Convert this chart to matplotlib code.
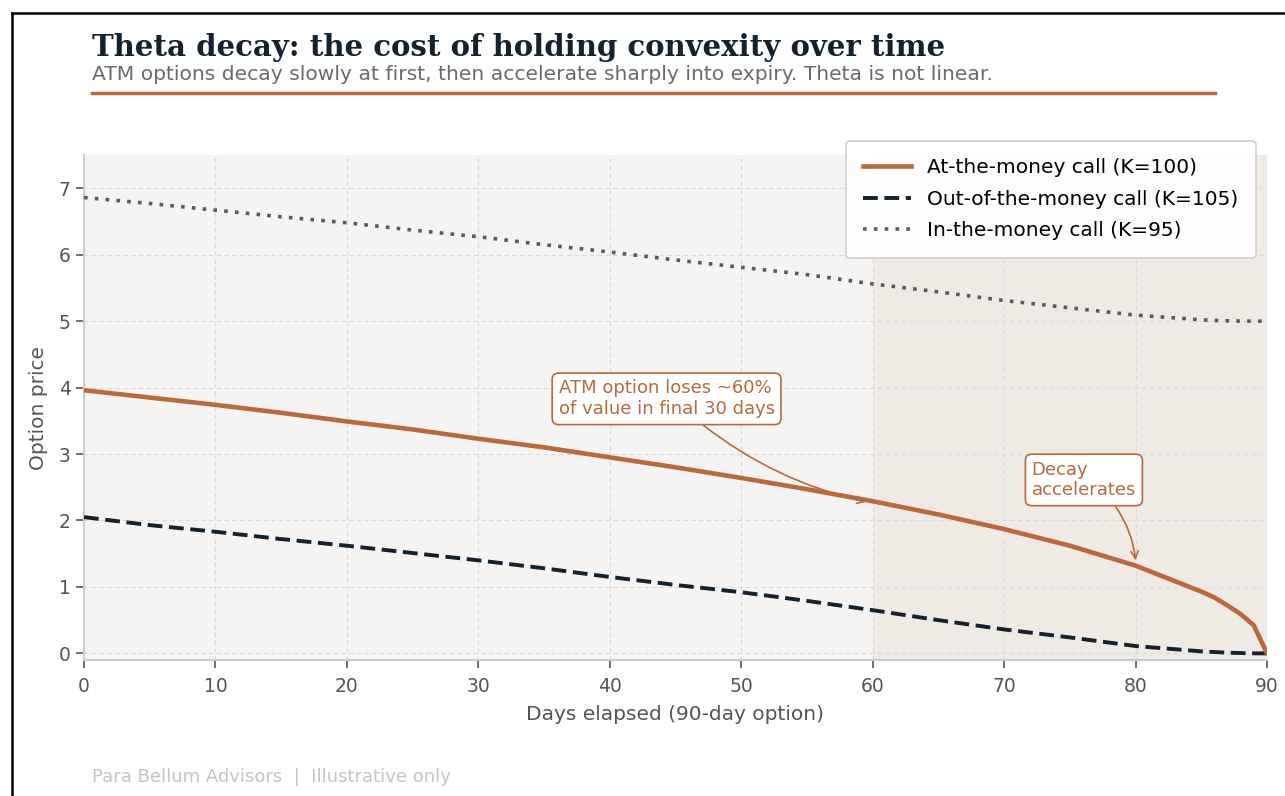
import matplotlib
matplotlib.use("Agg")
import matplotlib.pyplot as plt
from matplotlib.lines import Line2D

# -------------------------------
# Data
# -------------------------------
days = [0, 5, 10, 15, 20, 25, 30, 35, 40, 45, 50, 55, 60, 65, 70, 75, 80, 85, 86, 87, 88, 89, 90]
atm = [3.96, 3.85, 3.74, 3.62, 3.49, 3.37, 3.23, 3.10, 2.95, 2.80, 2.64, 2.47, 2.29,
       2.09, 1.87, 1.62, 1.32, 0.93, 0.84, 0.72, 0.59, 0.42, 0.0]
otm = [2.05, 1.93, 1.83, 1.72, 1.62, 1.51, 1.40, 1.28, 1.15, 1.03, 0.92, 0.79, 0.65,
       0.50, 0.36, 0.24, 0.11, 0.03, 0.02, 0.01, 0.005, 0.0, 0.0]
itm = [6.86, 6.77, 6.67, 6.57, 6.48, 6.37, 6.27, 6.15, 6.04, 5.92, 5.81, 5.70, 5.56,
       5.44, 5.31, 5.20, 5.09, 5.02, 5.01, 5.005, 5.0, 5.0, 5.0]

labels = ["At-the-money call (K=100)", "Out-of-the-money call (K=105)", "In-the-money call (K=95)"]

BROWN = "#b8693d"
NAVY = "#14212e"
GREY = "#5a5a5a"

# -------------------------------
# Figure
# -------------------------------
fig = plt.figure(figsize=(12.85, 7.96), dpi=100)
fig.patch.set_facecolor("white")
ax = fig.add_axes([84 / 1285, 136 / 796, (1267 - 84) / 1285, (660 - 155) / 796])
ax.set_facecolor("#f5f4f3")

ax.axvspan(60, 90, color="#f0eae5", zorder=0)

ax.plot(days, atm, color=BROWN, lw=3.3, label=labels[0], zorder=4)
ax.plot(days, otm, color=NAVY, lw=2.8, ls=(0, (3.8, 1.7)), label=labels[1], zorder=3)
ax.plot(days, itm, color=GREY, lw=2.6, ls=(0, (1, 2.0)), label=labels[2], zorder=3)

ax.set_xlim(0, 90)
ax.set_ylim(-0.1, 7.5)
ax.set_xticks(range(0, 91, 10))
ax.set_yticks(range(0, 8))
ax.grid(True, color="#d9d9d9", ls=(0, (4, 3)), lw=0.8)
ax.set_axisbelow(True)
for s in ["top", "right"]:
    ax.spines[s].set_visible(False)
for s in ["left", "bottom"]:
    ax.spines[s].set_color("#cccccc")
    ax.spines[s].set_linewidth(1.5)
ax.tick_params(colors="#555555", labelsize=13.5, length=6, width=1.2)
ax.tick_params(axis="x", pad=6)
ax.set_xlabel("Days elapsed (90-day option)", fontsize=14.5, color="#555555", labelpad=7)
ax.set_ylabel("Option price", fontsize=14.5, color="#555555", labelpad=8)

leg = ax.legend(loc="upper right", bbox_to_anchor=(0.999, 1.047), fontsize=14.5,
                frameon=True, facecolor="white", edgecolor="#cccccc", framealpha=0.95,
                handlelength=2.4, borderpad=0.85, labelspacing=0.62)
leg.get_frame().set_linewidth(1.2)

# Annotations
box = dict(boxstyle="round,pad=0.35", fc="white", ec=BROWN, lw=1.2)
ax.annotate("ATM option loses ~60%\nof value in final 30 days", xy=(59.5, 2.28),
            xytext=(36.1, 3.83), fontsize=13, color=BROWN, ha="left", va="center",
            bbox=box,
            arrowprops=dict(arrowstyle="->", color=BROWN, lw=1.2,
                            connectionstyle="arc3,rad=0.12", shrinkA=0, shrinkB=0,
                            relpos=(0.63, 0.0)))
ax.annotate("Decay\naccelerates", xy=(80, 1.40), xytext=(72.1, 2.61),
            fontsize=13, color=BROWN, ha="left", va="center", bbox=box,
            arrowprops=dict(arrowstyle="->", color=BROWN, lw=1.2,
                            connectionstyle="arc3,rad=-0.15", shrinkA=0, shrinkB=0,
                            relpos=(0.75, 0.0)))

# -------------------------------
# Header / footer
# -------------------------------
fig.text(92 / 1285, 1 - 56 / 796, "Theta decay: the cost of holding convexity over time",
         fontsize=21, fontweight="bold", family="DejaVu Serif", color=NAVY, va="baseline")
fig.text(92 / 1285, 1 - 80 / 796,
         "ATM options decay slowly at first, then accelerate sharply into expiry. Theta is not linear.",
         fontsize=14.6, color="#6b6b6b", va="baseline")
fig.add_artist(Line2D([92 / 1285, 1215 / 1285], [1 - 93 / 796, 1 - 93 / 796],
                      color=BROWN, lw=2.5))
fig.text(92 / 1285, 1 - 782 / 796, "Para Bellum Advisors  |  Illustrative only",
         fontsize=13, color="#c4c4c4", va="baseline")

# frame edges visible in the reference screenshot
fig.add_artist(Line2D([12 / 1285, 12 / 1285], [0, 1 - 13 / 796], color="black", lw=1.8))
fig.add_artist(Line2D([12 / 1285, 1], [1 - 13 / 796, 1 - 13 / 796], color="black", lw=1.8))

fig.savefig("out.png", dpi=100, facecolor="white")
